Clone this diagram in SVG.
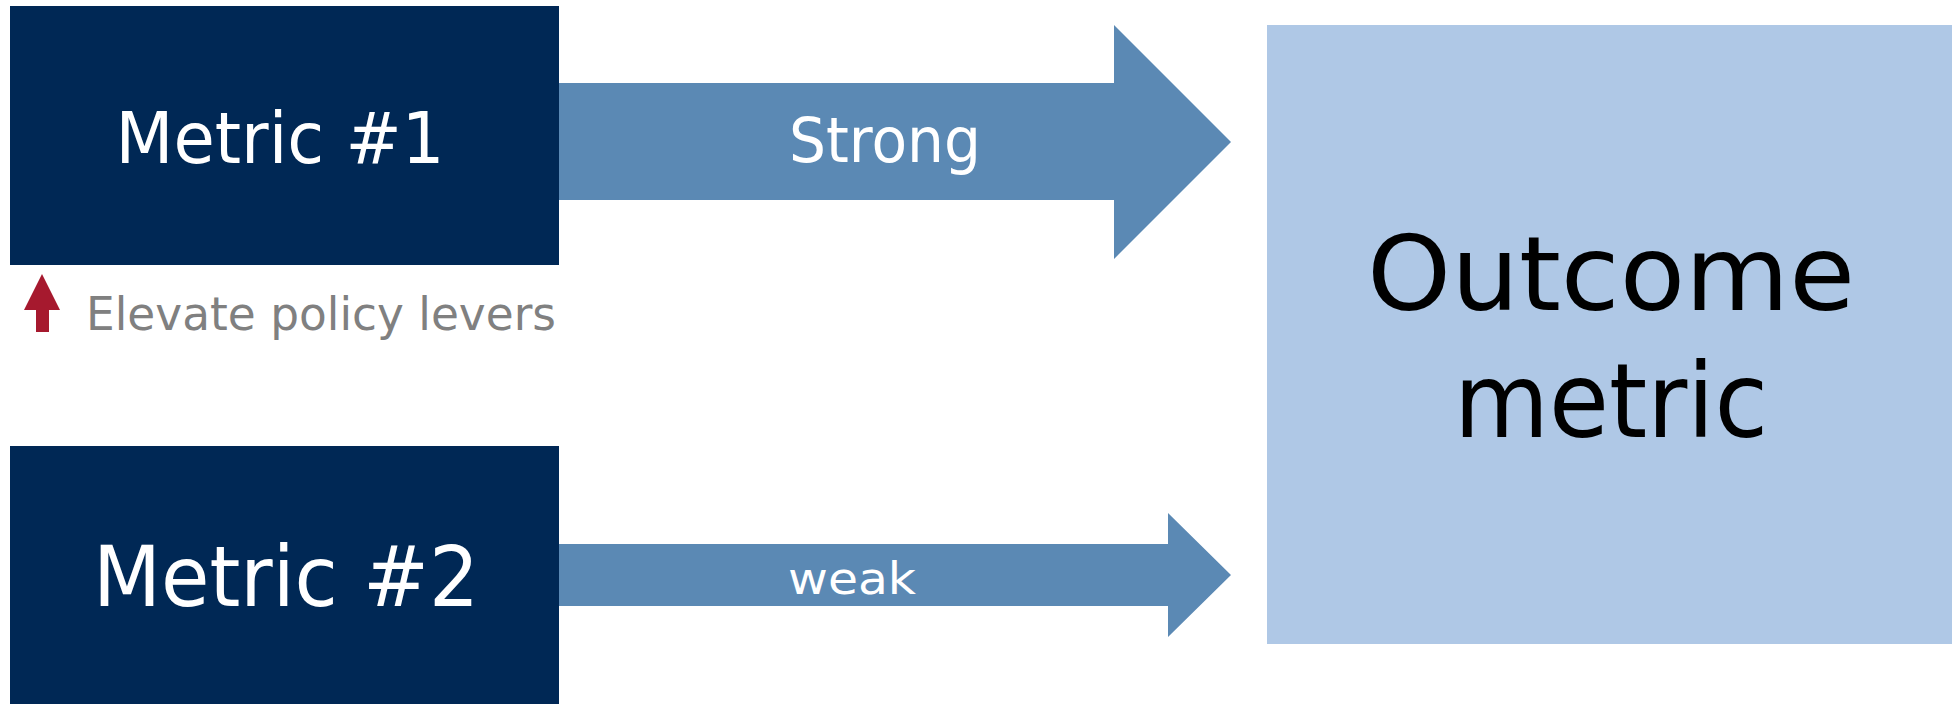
<svg xmlns="http://www.w3.org/2000/svg" width="1952" height="704" viewBox="0 0 1952 704">
<style>
.box{fill:#002855}
.arr{fill:#5B89B4}
.out{fill:#AFC8E6}
text{font-family:"DejaVu Sans","Liberation Sans",sans-serif}
.w{fill:#ffffff}
.k{fill:#000000}
.g{fill:#808080}
</style>
<rect width="1952" height="704" fill="#ffffff"/>
<g id="metric1">
<rect class="box" x="10" y="6" width="549" height="259"/>
<text class="w" x="280" y="163" font-size="71" text-anchor="middle" textLength="329" lengthAdjust="spacingAndGlyphs">Metric #1</text>
</g>
<g id="lever-note">
<polygon fill="#A6192E" points="42,274 60,310 49,310 49,332 36,332 36,310 24,310"/>
<text class="g" x="86" y="330" font-size="47" textLength="470" lengthAdjust="spacingAndGlyphs">Elevate policy levers</text>
</g>
<g id="metric2">
<rect class="box" x="10" y="446" width="549" height="258"/>
<text class="w" x="286" y="606" font-size="84" text-anchor="middle" textLength="386" lengthAdjust="spacingAndGlyphs">Metric #2</text>
</g>
<g id="outcome">
<rect class="out" x="1267" y="25" width="685" height="619"/>
<text class="k" x="1611" y="310" font-size="104" text-anchor="middle" textLength="488" lengthAdjust="spacingAndGlyphs">Outcome</text>
<text class="k" x="1611" y="437" font-size="104" text-anchor="middle" textLength="314" lengthAdjust="spacingAndGlyphs">metric</text>
</g>
<g id="connectors">
<g id="strong">
<polygon class="arr" points="559,83 1114,83 1114,25 1231,142 1114,259 1114,200 559,200"/>
<text class="w" x="885" y="162" font-size="62" text-anchor="middle" textLength="192" lengthAdjust="spacingAndGlyphs">Strong</text>
</g>
<g id="weak">
<polygon class="arr" points="559,544 1168,544 1168,513 1231,575 1168,637 1168,606 559,606"/>
<text class="w" x="852" y="594" font-size="44" text-anchor="middle" textLength="128" lengthAdjust="spacingAndGlyphs">weak</text>
</g>
</g>
</svg>
